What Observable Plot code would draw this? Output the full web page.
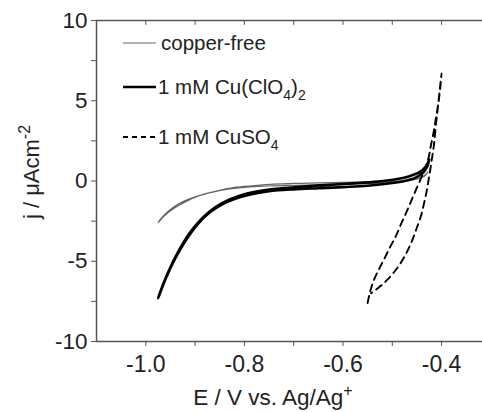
<!DOCTYPE html>
<html><head><meta charset="utf-8">
<script src="https://cdn.jsdelivr.net/npm/d3@7"></script>
<script src="https://cdn.jsdelivr.net/npm/@observablehq/plot@0.6"></script>
<style>html,body{margin:0;padding:0;background:#fff;} svg{display:block;}</style>
</head><body><div id="chart"></div>
<script>
// copper-free (thin grey loop)
const freeE = [-0.428,-0.435,-0.445,-0.46,-0.48,-0.5,-0.55,-0.6,-0.65,-0.7,-0.75,-0.8,-0.83,-0.86,-0.89,-0.92,-0.945,-0.965,-0.975,
               -0.968,-0.955,-0.935,-0.91,-0.88,-0.85,-0.82,-0.78,-0.74,-0.7,-0.65,-0.6,-0.55,-0.5,-0.47,-0.45,-0.435,-0.428];
const freeJ = [0.55,0.35,0.18,0.05,-0.05,-0.1,-0.17,-0.21,-0.24,-0.27,-0.31,-0.4,-0.5,-0.66,-0.9,-1.3,-1.75,-2.25,-2.6,
               -2.3,-1.9,-1.45,-1.1,-0.8,-0.58,-0.4,-0.29,-0.2,-0.15,-0.12,-0.09,-0.06,-0.02,0.04,0.12,0.3,0.55];
// 1 mM Cu(ClO4)2 (thick black loop)
const clE = [-0.425,-0.43,-0.44,-0.455,-0.475,-0.5,-0.55,-0.6,-0.65,-0.7,-0.75,-0.79,-0.82,-0.845,-0.87,-0.895,-0.92,-0.94,-0.96,-0.975,
             -0.97,-0.955,-0.935,-0.91,-0.885,-0.86,-0.83,-0.8,-0.76,-0.72,-0.68,-0.63,-0.58,-0.53,-0.49,-0.465,-0.445,-0.432,-0.425];
const clJ = [1.33,0.85,0.45,0.18,0.0,-0.13,-0.3,-0.38,-0.45,-0.52,-0.64,-0.86,-1.12,-1.45,-1.95,-2.7,-3.75,-4.8,-6.1,-7.3,
             -6.85,-5.7,-4.45,-3.2,-2.3,-1.65,-1.15,-0.82,-0.58,-0.44,-0.34,-0.24,-0.15,-0.04,0.12,0.3,0.55,0.9,1.33];
// 1 mM CuSO4 (dashed loop)
const soE = [-0.55,-0.545,-0.537,-0.527,-0.517,-0.505,-0.493,-0.481,-0.469,-0.459,-0.449,-0.44,-0.432,-0.426,-0.422,-0.417,-0.412,-0.407,-0.403,-0.4,
             -0.402,-0.405,-0.408,-0.412,-0.415,-0.419,-0.423,-0.427,-0.431,-0.436,-0.442,-0.45,-0.459,-0.47,-0.483,-0.497,-0.51,-0.522,-0.533,-0.543];
const soJ = [-7.6,-6.9,-6.15,-5.5,-4.9,-4.15,-3.45,-2.6,-1.79,-1.05,-0.34,0.3,0.91,1.5,2.16,2.9,3.82,4.8,5.9,6.7,
             6.0,5.2,4.44,3.4,2.37,1.5,0.7,-0.05,-0.75,-1.45,-2.2,-2.9,-3.66,-4.4,-5.11,-5.7,-6.15,-6.5,-6.77,-7.0];

const xTicks = [-1.0,-0.9,-0.8,-0.7,-0.6,-0.5,-0.4];
const xLabels = {"-1": "-1.0", "-0.8": "-0.8", "-0.6": "-0.6", "-0.4": "-0.4"};
const yTicks = [-10,-7.5,-5,-2.5,0,2.5,5,7.5,10];
const yLabels = {"-10": "-10", "-5": "-5", "0": "0", "5": "5", "10": "10"};

const pts = (E, J) => E.map((e, i) => ({E: e, j: J[i]}));
const axisColor = "#555";
const textColor = "#222";
const font = "'Liberation Sans', Arial, sans-serif";

const plot = Plot.plot({
  width: 482, height: 412,
  marginLeft: 96, marginRight: 0, marginTop: 20, marginBottom: 71,
  x: {domain: [-1.1, -0.317]},
  y: {domain: [-10, 10]},
  style: {fontFamily: font, background: "white", color: textColor},
  marks: [
    Plot.axisX({ticks: xTicks, anchor: "bottom", tickSize: 5, tickPadding: 9, fontSize: 23,
      tickFormat: d => xLabels[String(+d.toFixed(1))] ?? "", stroke: axisColor, fill: textColor, label: null}),
    Plot.axisY({ticks: yTicks, anchor: "left", tickSize: 5, tickPadding: 4, fontSize: 22.5,
      tickFormat: d => yLabels[String(d)] ?? "", stroke: axisColor, fill: textColor, label: null}),
    Plot.ruleX(xTicks, {y1: 10, y2: 9.7, stroke: axisColor, strokeWidth: 1}),
    Plot.ruleY([-10, 10], {stroke: axisColor, strokeWidth: 1.5}),
    Plot.ruleX([-1.1], {stroke: axisColor, strokeWidth: 1.5}),
    Plot.line(pts(freeE, freeJ), {x: "E", y: "j", stroke: "#666", strokeWidth: 1.2, curve: "catmull-rom"}),
    Plot.line(pts(clE, clJ), {x: "E", y: "j", stroke: "#000", strokeWidth: 2.6, curve: "catmull-rom"}),
    Plot.line(pts(soE, soJ), {x: "E", y: "j", stroke: "#000", strokeWidth: 1.9, strokeDasharray: "7,5", curve: "catmull-rom"})
  ]
});
document.getElementById("chart").appendChild(plot);

const svg = d3.select(plot);
// axis titles
const xt = svg.append("text").attr("x", 273).attr("y", 405).attr("text-anchor", "middle")
  .attr("font-family", font).attr("font-size", 22.5).attr("fill", textColor);
xt.append("tspan").text("E / V vs. Ag/Ag");
xt.append("tspan").attr("dy", -9).attr("font-size", 16).text("+");

const yt = svg.append("text").attr("transform", "translate(39,172) rotate(-90)").attr("text-anchor", "middle")
  .attr("font-family", font).attr("font-size", 22).attr("fill", textColor);
yt.append("tspan").text("j / \u03bcAcm");
yt.append("tspan").attr("dy", -9).attr("font-size", 16).text("-2");

// legend
const leg = svg.append("g").attr("font-family", font).attr("font-size", 20.5)
  .attr("fill", textColor).attr("text-anchor", "start");
const rows = [
  {y: 43, stroke: "#666", w: 1.2, dash: null},
  {y: 87, stroke: "#000", w: 2.6, dash: null},
  {y: 137, stroke: "#000", w: 1.9, dash: "5,4"}
];
rows.forEach(r => {
  leg.append("line").attr("x1", 123).attr("x2", 156).attr("y1", r.y).attr("y2", r.y)
    .attr("stroke", r.stroke).attr("stroke-width", r.w).attr("stroke-dasharray", r.dash);
});
leg.append("text").attr("x", 161).attr("y", 50).text("copper-free");
const t2 = leg.append("text").attr("x", 158).attr("y", 94);
t2.append("tspan").text("1 mM Cu(ClO");
t2.append("tspan").attr("dy", 6).attr("font-size", 14).text("4");
t2.append("tspan").attr("dy", -6).text(")");
t2.append("tspan").attr("dy", 6).attr("font-size", 14).text("2");
const t3 = leg.append("text").attr("x", 158).attr("y", 144);
t3.append("tspan").text("1 mM CuSO");
t3.append("tspan").attr("dy", 6).attr("font-size", 14).text("4");
</script>
</body></html>
